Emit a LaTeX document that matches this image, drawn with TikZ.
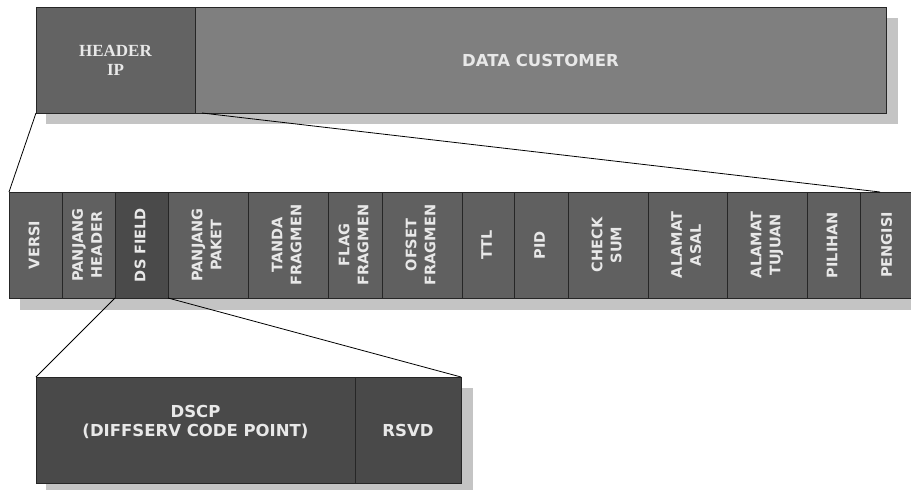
\documentclass[tikz,border=0pt]{standalone}
\usepackage{fontspec}
\setmainfont{DejaVu Sans}
\newfontfamily\hdrserif{Liberation Serif}
\definecolor{hdrgray}{HTML}{636363}
\definecolor{datagray}{HTML}{7F7F7F}
\definecolor{fieldgray}{HTML}{606060}
\definecolor{dsgray}{HTML}{4A4A4A}
\definecolor{lowgray}{HTML}{494949}
\definecolor{shadowgray}{HTML}{C4C4C4}
\definecolor{edgegray}{HTML}{262626}
\definecolor{txtgray}{HTML}{E8E8E8}
\newcommand\vlabel[1]{\rotatebox{90}{\begin{tabular}{@{}c@{}}#1\end{tabular}}}
\begin{document}
\begin{tikzpicture}[x=1pt,y=-1pt,
  box/.style={draw=edgegray, line width=0.9pt, inner sep=0pt, outer sep=0pt,
    text=txtgray, font=\bfseries\fontsize{16.5}{19}\selectfont, align=center,
    minimum height=106pt},
  fieldbox/.style={box, fill=fieldgray, font=\bfseries\fontsize{14.5}{19}\selectfont},
  link/.style={draw=black, line width=0.8pt}]
\clip (0,0) rectangle (911,490);
\fill[white] (0,0) rectangle (911,490);
% shadows
\fill[shadowgray] (46,18) rectangle (898,124);
\fill[shadowgray] (20,203) rectangle (930,310);
\fill[shadowgray] (46,388) rectangle (473,500);
% top row
\node[box, fill=hdrgray, minimum width=159pt, font=\hdrserif\bfseries\fontsize{17}{19}\selectfont]
  (header) at (115.5,60) {HEADER\\IP};
\node[box, fill=datagray, minimum width=691pt] (data) at (540.5,60) {DATA CUSTOMER};
% field row
\node[fieldbox, minimum width=53pt] (versi) at (35.5,245) {\vlabel{VERSI}};
\node[fieldbox, minimum width=53pt] (pheader) at (88.5,245) {\vlabel{PANJANG\\HEADER}};
\node[fieldbox, fill=dsgray, minimum width=53pt] (dsfield) at (141.5,245) {\vlabel{DS FIELD}};
\node[fieldbox, minimum width=80pt] (ppaket) at (208,245) {\vlabel{PANJANG\\PAKET}};
\node[fieldbox, minimum width=80pt] (tanda) at (288,245) {\vlabel{TANDA\\FRAGMEN}};
\node[fieldbox, minimum width=54pt] (flag) at (355,245) {\vlabel{FLAG\\FRAGMEN}};
\node[fieldbox, minimum width=80pt] (ofset) at (422,245) {\vlabel{OFSET\\FRAGMEN}};
\node[fieldbox, minimum width=52pt] (ttl) at (488,245) {\vlabel{TTL}};
\node[fieldbox, minimum width=54pt] (pid) at (541,245) {\vlabel{PID}};
\node[fieldbox, minimum width=80pt] (checksum) at (608,245) {\vlabel{CHECK\\SUM}};
\node[fieldbox, minimum width=79pt] (asal) at (687.5,245) {\vlabel{ALAMAT\\ASAL}};
\node[fieldbox, minimum width=80pt] (tujuan) at (767,245) {\vlabel{ALAMAT\\TUJUAN}};
\node[fieldbox, minimum width=53pt] (pilihan) at (833.5,245) {\vlabel{PILIHAN}};
\node[fieldbox, minimum width=56pt] (pengisi) at (888,245) {\vlabel{PENGISI}};
% bottom row
\node[box, fill=lowgray, minimum width=319pt] (dscp) at (195.5,430)
  {DSCP\\(DIFFSERV CODE POINT)\\\mbox{}};
\node[box, fill=lowgray, minimum width=106pt] (rsvd) at (408,430) {RSVD};
% connectors
\draw[link] (header.south west) -- (versi.north west);
\draw[link] ([xshift=7pt]data.south west) -- ([xshift=20pt]pengisi.north west);
\draw[link] (dsfield.south west) -- (dscp.north west);
\draw[link] (dsfield.south east) -- (rsvd.north east);
\end{tikzpicture}
\end{document}
